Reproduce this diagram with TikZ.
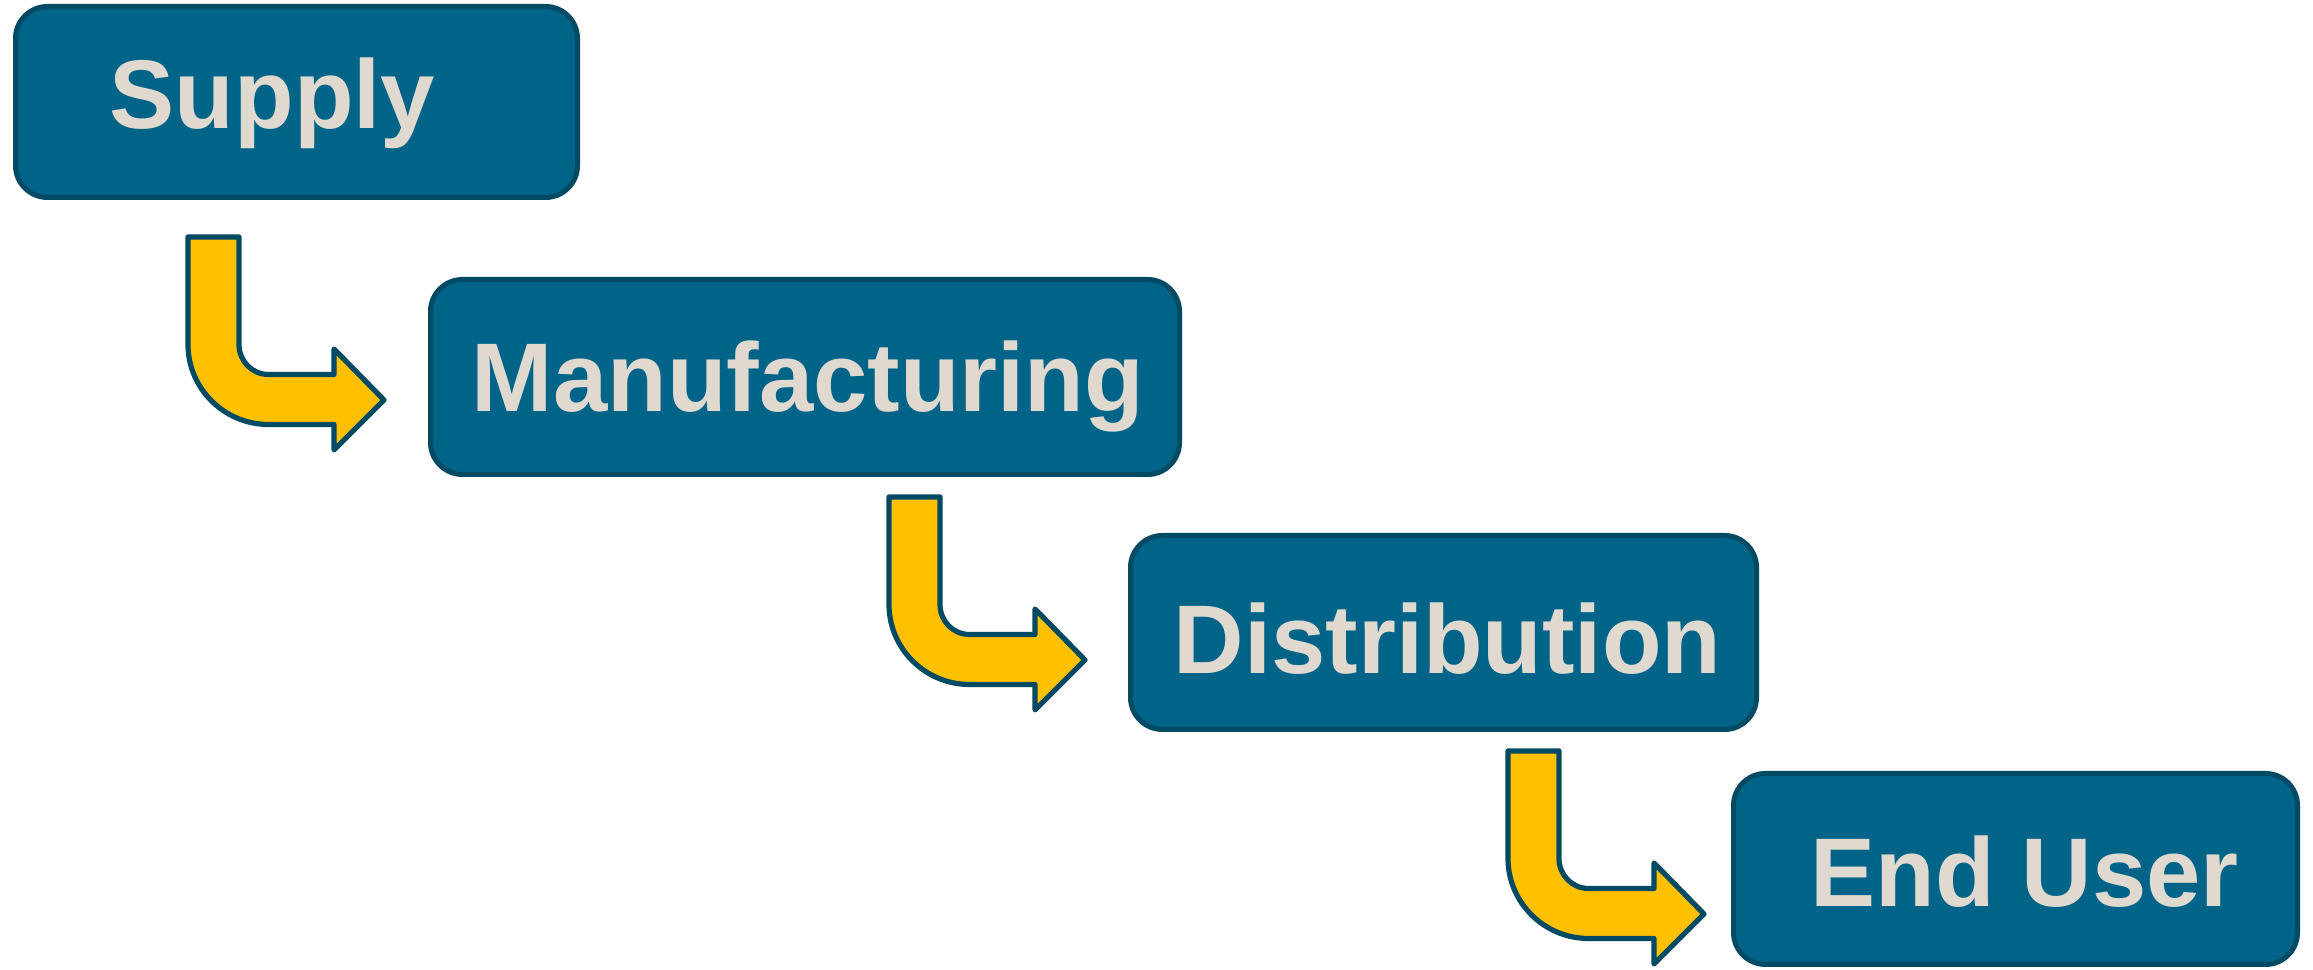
\documentclass[tikz,border=0pt]{standalone}
\usepackage{fontspec}
\setmainfont{Liberation Sans}
\usepackage{xcolor}
\usepackage{tikz}
\usetikzlibrary{positioning}
\definecolor{stagefill}{RGB}{0,100,137}
\definecolor{stageline}{RGB}{0,74,99}
\definecolor{stagetext}{RGB}{224,217,208}
\definecolor{arrowfill}{RGB}{255,192,0}
\tikzset{
    stagenode/.style = {draw=stageline, fill=stagefill, rectangle, rounded corners=8pt, line width=1.25pt,
      text=stagetext, font=\fontsize{24.4}{29}\selectfont\bfseries, inner sep=0em,
      node distance=0em, text height=17.5pt, text depth=0pt},
    bentshape/.style = {draw=stageline, fill=arrowfill, line width=1.3pt, line join=round}
}
\newcommand{\bentarrow}[1]{%
  \draw [bentshape, shift={(#1)}] (0,0) -- (51,0) -- (51,-107.5)
    .. controls (51,-124) and (64,-137.5) .. (80.5,-137.5) -- (146,-137.5) -- (146,-112)
    -- (196,-163) -- (146,-213) -- (146,-187.5) -- (80.5,-187.5)
    .. controls (36.3,-187.5) and (0,-151.7) .. (0,-107.5) -- cycle;}

\begin{document}
\begin{tikzpicture}[x=0.25pt, y=0.25pt]
    \useasboundingbox (0,0) rectangle (2313,970);

    \node [name=supply, stagenode, minimum width=140.5pt, minimum height=47.75pt,
        text height=13.5pt] at (296.5,868) {\hspace*{-12pt}Supply};
    \node [name=manufacturing, stagenode, minimum width=187.25pt, minimum height=48.75pt,
        right of = supply, xshift=127.125pt, yshift=-68.75pt] {\hspace*{1.5pt}Manufacturing};
    \node [name=distribution, stagenode, minimum width=156.5pt, minimum height=48.5pt,
        right of = supply, xshift=286.75pt, yshift=-132.625pt, text height=20.5pt] {\hspace*{2pt}Distribution};
    \node [name=enduser, stagenode, minimum width=141pt, minimum height=47.75pt,
        right of = supply, xshift=429.75pt, yshift=-191.75pt, text height=19pt] {\hspace*{4.5pt}End User};

    % bent arrows between the stages
    \coordinate (arrowA) at (188,733);
    \coordinate (arrowB) at (889,473);
    \coordinate (arrowC) at (1508,219);
    \bentarrow{arrowA}
    \bentarrow{arrowB}
    \bentarrow{arrowC}
\end{tikzpicture}
\end{document}
